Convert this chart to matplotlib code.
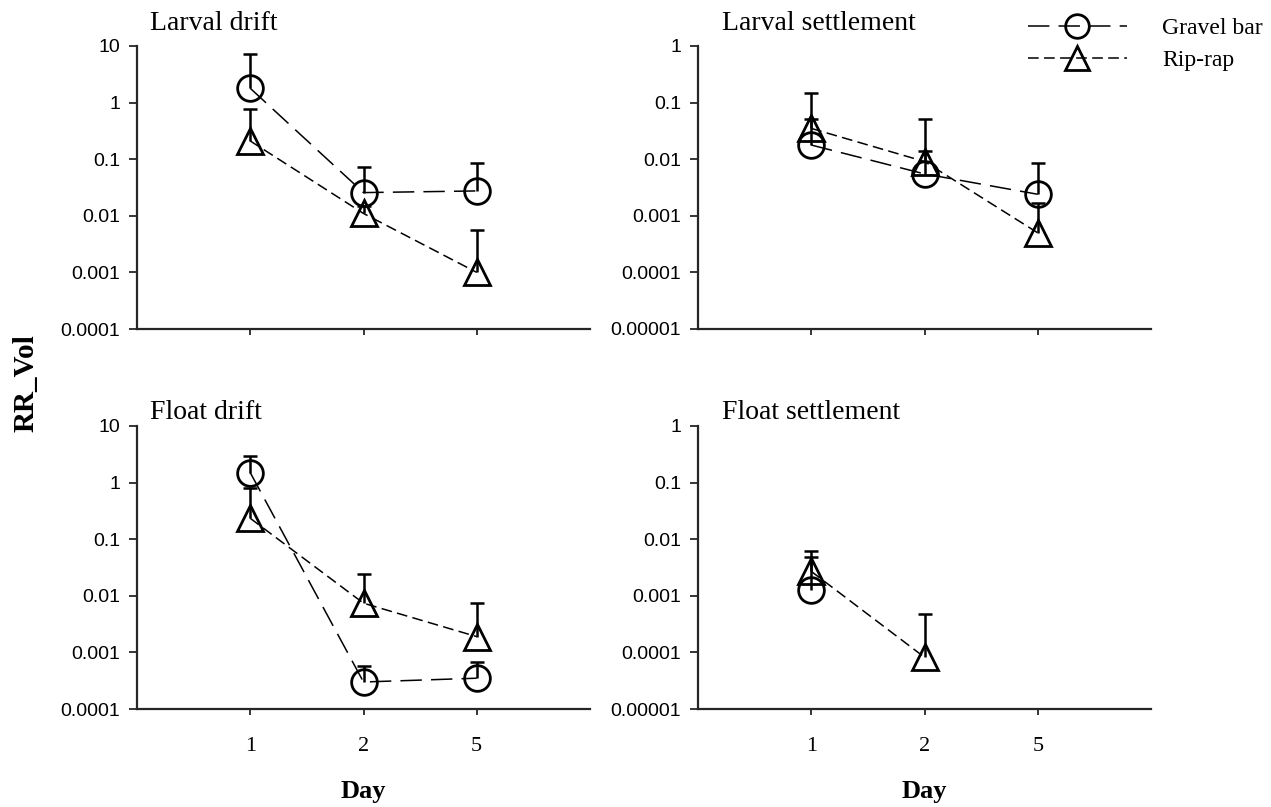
import matplotlib
matplotlib.use("Agg")
import matplotlib.pyplot as plt
from matplotlib.lines import Line2D
import numpy as np

# ---- data ----
days = ["1", "2", "5"]
x_pos = [1, 2, 3]

panels = ["Larval drift", "Larval settlement", "Float drift", "Float settlement"]

# Larval drift
ld_gravel = [1.79, 0.0257, 0.0275]
ld_gravel_err = [7.1, 0.072, 0.087]
ld_rip = [0.21, 0.011, 0.0010]
ld_rip_err = [0.78, 0.015, 0.0056]

# Larval settlement
ls_gravel = [0.0178, 0.0055, 0.0024]
ls_gravel_err = [0.051, 0.014, 0.0087]
ls_rip = [0.035, 0.0091, 0.0005]
ls_rip_err = [0.15, 0.051, 0.00166]

# Float drift
fd_gravel = [1.5, 0.0003, 0.00035]
fd_gravel_err = [2.98, 0.00058, 0.00067]
fd_rip = [0.234, 0.0074, 0.0019]
fd_rip_err = [0.79, 0.0245, 0.0074]

# Float settlement
fs_gravel = [0.00125, np.nan, np.nan]
fs_gravel_err = [0.0049, np.nan, np.nan]
fs_rip = [0.0027, 0.000082, np.nan]
fs_rip_err = [0.0063, 0.00047, np.nan]

series = [
    (ld_gravel, ld_gravel_err, ld_rip, ld_rip_err),
    (ls_gravel, ls_gravel_err, ls_rip, ls_rip_err),
    (fd_gravel, fd_gravel_err, fd_rip, fd_rip_err),
    (fs_gravel, fs_gravel_err, fs_rip, fs_rip_err),
]
ylims = [(1e-4, 10), (1e-5, 1), (1e-4, 10), (1e-5, 1)]
yticks = [
    [1e-4, 1e-3, 1e-2, 1e-1, 1, 10],
    [1e-5, 1e-4, 1e-3, 1e-2, 1e-1, 1],
    [1e-4, 1e-3, 1e-2, 1e-1, 1, 10],
    [1e-5, 1e-4, 1e-3, 1e-2, 1e-1, 1],
]
ytick_labels = [
    ["0.0001", "0.001", "0.01", "0.1", "1", "10"],
    ["0.00001", "0.0001", "0.001", "0.01", "0.1", "1"],
    ["0.0001", "0.001", "0.01", "0.1", "1", "10"],
    ["0.00001", "0.0001", "0.001", "0.01", "0.1", "1"],
]

W, H = 1271, 807
fig = plt.figure(figsize=(W / 100, H / 100), dpi=100)

def px_axes(x0, y0, x1, y1):
    return fig.add_axes([x0 / W, 1 - y1 / H, (x1 - x0) / W, (y1 - y0) / H])

boxes = [(137, 46, 590, 329), (698, 46, 1151, 329),
         (137, 426, 590, 709), (698, 426, 1151, 709)]
title_pos = [(150, 30), (722, 30), (150, 419), (722, 419)]

serif = "Liberation Serif"
sans = "Liberation Sans"
axcol = "#262626"

gravel_ls = (0, (14, 6))
rip_ls = (0, (7, 3.5))
ms = 18.5
mew = 2.0
elw = 1.8

for i, ax_box in enumerate(boxes):
    ax = px_axes(*ax_box)
    g, ge, r, re_ = series[i]
    g = np.array(g, float); ge = np.array(ge, float)
    r = np.array(r, float); re_ = np.array(re_, float)
    xp = np.array(x_pos, float)

    # upper-only error bars with a single cap
    for vals, errs in ((g, ge), (r, re_)):
        m = ~np.isnan(vals)
        ax.vlines(xp[m], vals[m], errs[m], colors="black", linewidth=elw,
                  zorder=3)
        ax.plot(xp[m], errs[m], linestyle="none", marker="_",
                markersize=10, markeredgewidth=elw, color="black", zorder=3)
    ax.plot(xp, g, color="black", linestyle=gravel_ls, linewidth=1.1,
            marker="o", markersize=ms, markerfacecolor="none",
            markeredgecolor="black", markeredgewidth=mew, zorder=4)
    ax.plot(xp, r, color="black", linestyle=rip_ls, linewidth=1.1,
            marker="^", markersize=ms, markerfacecolor="none",
            markeredgecolor="black", markeredgewidth=mew, zorder=4)

    ax.set_yscale("log")
    ax.set_ylim(*ylims[i])
    ax.set_xlim(0, 4)
    ax.set_yticks(yticks[i])
    ax.set_yticklabels(ytick_labels[i], fontfamily=sans, fontsize=14)
    ax.yaxis.set_minor_locator(matplotlib.ticker.NullLocator())
    ax.set_xticks(x_pos)
    if i >= 2:
        ax.set_xticklabels(days, fontfamily=serif, fontsize=16)
        ax.set_xlabel("Day", fontfamily=serif, fontsize=19, fontweight="bold",
                      labelpad=17)
    else:
        ax.set_xticklabels([])
    ax.tick_params(axis="y", direction="out", length=6, width=1.3,
                   color=axcol, pad=6)
    ax.tick_params(axis="x", direction="out", length=4.5, width=1.3,
                   color=axcol, pad=16)
    for s in ("top", "right"):
        ax.spines[s].set_visible(False)
    for s in ("left", "bottom"):
        ax.spines[s].set_color(axcol)
        ax.spines[s].set_linewidth(1.6)
    ax.patch.set_alpha(0)

    tx, ty = title_pos[i]
    fig.text(tx / W, 1 - ty / H, panels[i], fontfamily=serif, fontsize=20,
             ha="left", va="baseline")

fig.text(26 / W, 1 - 383 / H, "RR_Vol", fontfamily=serif, fontsize=21,
         fontweight="bold", rotation=90, ha="center", va="center")

handles = [
    Line2D([], [], color="black", linestyle=gravel_ls, linewidth=1.1,
           marker="o", markersize=17, markerfacecolor="none",
           markeredgewidth=mew),
    Line2D([], [], color="black", linestyle=rip_ls, linewidth=1.1,
           marker="^", markersize=17, markerfacecolor="none",
           markeredgewidth=mew),
]
fig.legend(handles, ["Gravel bar", "Rip-rap"], loc="upper left",
           bbox_to_anchor=(1009 / W, 1 + 1 / H), frameon=False,
           prop={"family": serif, "size": 17}, handlelength=4.2,
           handletextpad=1.5, labelspacing=0.42, borderpad=0.3)

fig.savefig("out.png", dpi=100)
